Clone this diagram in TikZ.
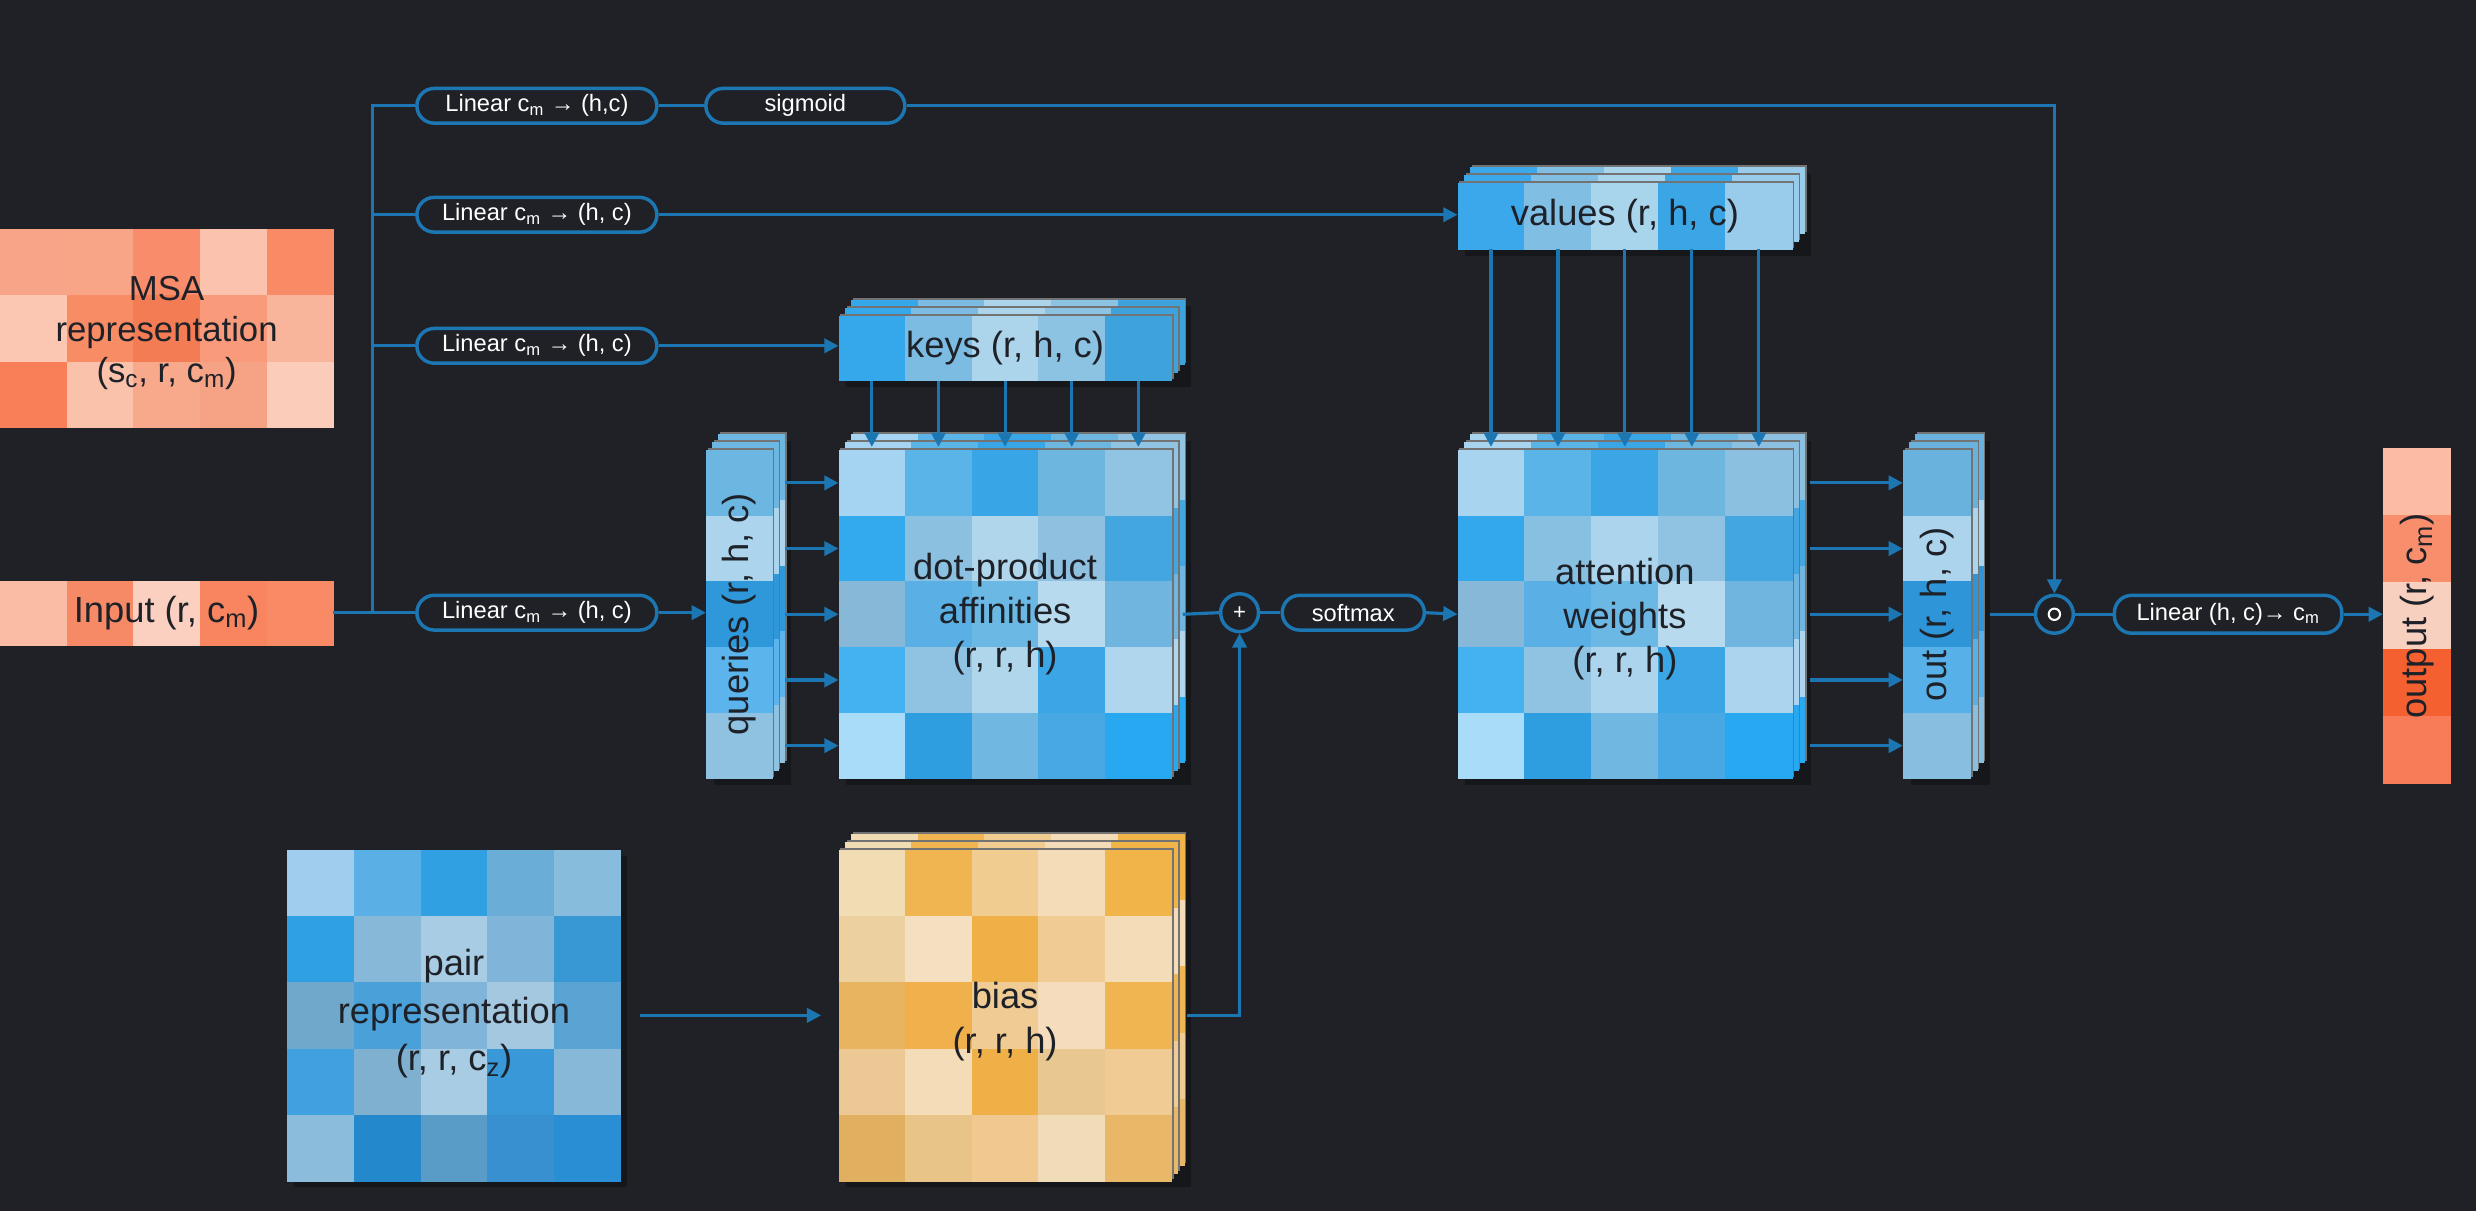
\documentclass[tikz,border=0pt]{standalone}
\usepackage{fontspec}
\setmainfont{Liberation Sans}
\usetikzlibrary{arrows.meta,calc}
\definecolor{bg}{HTML}{202126}
\definecolor{ln}{HTML}{1C76B2}
\definecolor{txt}{HTML}{1E2128}
\newcommand{\cellgrid}[6]{%
  \foreach \cc [count=\ii from 0] in {#6}{%
    \pgfmathtruncatemacro{\cx}{mod(\ii,#5)}%
    \pgfmathtruncatemacro{\cy}{(\ii-\cx)/#5}%
    \definecolor{cellc}{HTML}{\cc}%
    \fill[cellc] ({#1+\cx*#3},{#2+\cy*#4}) rectangle ({#1+(\cx+1)*#3+0.3},{#2+(\cy+1)*#4+0.3});
  }}
\newcommand{\stackgrid}[7]{%
  \fill[black,opacity=.3] ({#1+5},{#2-6}) rectangle ({#1+#3*#5+12},{#2+#4*#6+4});
  \foreach \dd in {8,4,0}{%
    \fill[black!55] ({#1+\dd+1.2},{#2-1.25*\dd-1.2}) rectangle ({#1+\dd+#3*#5+1.2},{#2-1.25*\dd+#4*#6-1.2});
    \cellgrid{#1+\dd}{#2-1.25*\dd}{#3}{#4}{#5}{#7}%
  }}
\begin{document}
\begin{tikzpicture}[x=1pt,y=-1pt,
  line/.style={draw=ln,line width=2pt},
  arr/.style={line,-{Triangle[length=9pt,width=9pt]}},
  pill/.style={draw=ln,line width=2.2pt,fill=bg,rounded corners=11pt,minimum height=22pt,inner sep=0pt,text=white,font=\fontsize{15}{15}\selectfont},
  area/.style={inner sep=0pt,outer sep=0pt},
  lbl/.style={inner sep=0pt,text=txt,align=center,font=\fontsize{23}{28}\selectfont},
  op/.style={circle,draw=ln,line width=2.2pt,fill=bg,minimum size=24pt,inner sep=0pt,text=white,font=\fontsize{14}{14}\selectfont}]
\useasboundingbox (0,0) rectangle (1568,767);
\fill[bg] (0,0) rectangle (1568,767);

% ---- grids ----
\cellgrid{0}{145}{42.2}{42}{5}{F8A488,F8A486,F98D6B,FBC3AD,F88B66,FBC7B3,F78C65,F47C55,F99A7A,F9B59C,F87F58,FAC1AB,F8A98C,F6A385,FCCCBA}
\cellgrid{0}{368}{42.2}{41}{5}{FBBCA6,F78A66,FCD0C0,F88560,F88A65}
\fill[black,opacity=.3] (186,542) rectangle (397,752);
\cellgrid{182}{538}{42.2}{42}{5}{A0CDEE,5AB0E4,30A0E2,6AAED8,88BCDC,30A0E4,88B8D8,A8CCE4,80B4D8,3898D4,70A8CC,4AA0D8,80B4D8,A4C8E0,5AA4D4,40A0E0,80B0D0,A8CCE4,3898D8,88B8D8,8CBCDC,2488CC,5A9CC8,3890D0,2A8ED4}
\stackgrid{531}{200}{42.2}{41}{5}{1}{35A8EC,7CBCE2,ACD4EA,8CC2E2,3EA2DC}
\stackgrid{447}{285}{42}{41.6}{1}{5}{6CB6E2,ACD4EC,2E98DA,5CB4EC,8EC2E0}
\stackgrid{531}{285}{42.2}{41.6}{5}{5}{A4D4F2,5AB4E8,38A6E6,6CB6E0,90C4E2,34AAEE,8CC0E0,B0D6EC,90C0E0,44A6E0,88B8D8,5AB0E4,6CB8E4,B8DAEE,70B4E0,44B2F0,90C2E2,B0D6EC,3AA6E6,B0D6EE,A8DCF8,2E9EE0,70B8E2,48A8E4,28A8F0}
\stackgrid{531}{538}{42.2}{42}{5}{5}{F2DCB4,F0B450,F0CC90,F4DCB8,F0B448,ECD0A0,F4E0C0,F0B048,F0CC94,F4DCB8,E8B460,F0B04C,F0CC94,F4DCBC,F0B450,ECC894,F4DCB8,F0B048,E8C890,F0CC94,E0B060,E8C488,F0C890,F0DCB8,E8B868}
\stackgrid{923}{116}{42.4}{42}{5}{1}{3AA8EA,80BEE4,A8D4EC,3AA6E6,98CCEA}
\stackgrid{923}{285}{42.4}{41.6}{5}{5}{A8D4F0,5AB4E8,3AA6E6,6CB6E0,8CC0E0,34A8EC,88C0E2,ACD4EC,90C2E2,44A6E0,88B8D8,5AB0E4,6CB8E4,B8DAEE,70B4E0,44B2F0,90C2E2,ACD4EC,3AA6E6,ACD4EE,A8DCF8,2E9EE0,70B8E2,48A8E4,28A8F0}
\stackgrid{1205}{285}{43}{41.6}{1}{5}{6AB2DE,ACD4EC,2E96D8,58B0E8,88BEDF}
\cellgrid{1509}{284}{43}{42.4}{1}{FCBCA4,F88E6C,F8D0C0,F46030,F87C58}

% ---- area nodes ----
\node[area,minimum width=211pt,minimum height=126pt] (msa) at (105.5,208) {};
\node[area,minimum width=211pt,minimum height=41pt] (input) at (105.5,388) {};
\node[area,minimum width=211pt,minimum height=41pt] (keys) at (636.5,220.5) {};
\node[area,minimum width=211pt,minimum height=208pt] (dp) at (636.5,389) {};
\node[area,minimum width=42pt,minimum height=208pt] (queries) at (468,389) {};
\node[area,minimum width=212pt,minimum height=42pt] (values) at (1029,137) {};
\node[area,minimum width=212pt,minimum height=208pt] (att) at (1029,389) {};
\node[area,minimum width=43pt,minimum height=208pt] (out) at (1226.5,389) {};
\node[area,minimum width=211pt,minimum height=210pt] (pair) at (287.5,643) {};
\node[area,minimum width=211pt,minimum height=210pt] (bias) at (636.5,643) {};
\node[area,minimum width=43pt,minimum height=212pt] (output) at (1530.5,390) {};

% ---- pills and operators ----
\node[pill,minimum width=152pt] (p1) at (340,67) {Linear c\textsubscript{m} → (h,c)};
\node[pill,minimum width=126pt] (sig) at (510,67) {sigmoid};
\node[pill,minimum width=152pt] (p2) at (340,136) {Linear c\textsubscript{m} → (h, c)};
\node[pill,minimum width=152pt] (p3) at (340,219) {Linear c\textsubscript{m} → (h, c)};
\node[pill,minimum width=152pt] (p4) at (340,388) {Linear c\textsubscript{m} → (h, c)};
\node[pill,minimum width=90pt] (soft) at (857,388) {softmax};
\node[pill,minimum width=144pt,minimum height=24pt] (plin) at (1411,389) {Linear (h, c)→ c\textsubscript{m}};
\node[op] (plus) at (785,388) {+};
\node[op] (odot) at (1301,389) {};
\draw[white,line width=1.3pt] (odot.center) circle (3.6);

% ---- connectors ----
\coordinate (tb) at (236,388);
\coordinate (tt) at (236,67);
\draw[line] (input.east) -- (p4.west);
\draw[line] (tb) -- (tt) -- (p1.west);
\draw[line] (p2.west -| tb) -- (p2.west);
\draw[line] (p3.west -| tb) -- (p3.west);
\draw[line] (p1.east) -- (sig.west);
\draw[arr] (sig.east) -| (odot.north);
\draw[arr] (p2.east) -- (p2.east -| values.west);
\draw[arr] (p3.east) -- (p3.east -| keys.west);
\draw[arr] (p4.east) -- (p4.east -| queries.west);
\foreach \f in {0.1,0.3,0.5,0.7,0.9}{
  \draw[arr] ($(keys.south west)!\f!(keys.south east)$) -- ($(dp.north west)!\f!(dp.north east)+(0,-2)$);
  \draw[arr] ($(queries.north east)!\f!(queries.south east)+(8,0)$) -- ($(dp.north west)!\f!(dp.south west)$);
  \draw[arr] ($(values.south west)!\f!(values.south east)$) -- ($(att.north west)!\f!(att.north east)+(0,-2)$);
  \draw[arr] ($(att.north east)!\f!(att.south east)+(11,0)$) -- ($(out.north west)!\f!(out.south west)$);
}
\draw[line] ($(dp.east)+(7,0)$) -- (plus.west);
\draw[line] (plus.east) -- (soft.west);
\draw[arr] (soft.east) -- (att.west);
\draw[arr] ($(bias.east)+(10,0)$) -| (plus.south);
\draw[arr] ($(pair.east)+(12,0)$) -- ($(bias.west)+(-11,0)$);
\draw[line] ($(out.east)+(12,0)$) -- (odot.west);
\draw[line] (odot.east) -- (plin.west);
\draw[arr] (plin.east) -- (plin.east -| output.west);

% ---- labels ----
\node[lbl,font=\fontsize{22}{26}\selectfont] (msatxt) at ($(msa.center)+(0,3)$) {MSA\\representation\\(s\textsubscript{c}, r, c\textsubscript{m})};
\node[lbl] (inputtxt) at (input.center) {Input (r, c\textsubscript{m})};
\node[lbl] (keystxt) at (keys.center) {keys (r, h, c)};
\node[lbl] (dptxt) at (dp.center) {dot-product\\affinities\\(r, r, h)};
\node[lbl,rotate=90] (qtxt) at (queries.center) {queries (r, h, c)};
\node[lbl] (valtxt) at (values.center) {values (r, h, c)};
\node[lbl] (atttxt) at ($(att.center)+(0,3)$) {attention\\weights\\(r, r, h)};
\node[lbl,rotate=90] (outtxt) at (out.center) {out (r, h, c)};
\node[lbl,font=\fontsize{23}{30}\selectfont] (pairtxt) at ($(pair.center)+(0,-1)$) {pair\\representation\\(r, r, c\textsubscript{z})};
\node[lbl,font=\fontsize{23}{29}\selectfont] (biastxt) at ($(bias.center)+(0,4)$) {bias\\(r, r, h)};
\node[lbl,rotate=90] (outputtxt) at (output.center) {output (r, c\textsubscript{m})};
\end{tikzpicture}
\end{document}
